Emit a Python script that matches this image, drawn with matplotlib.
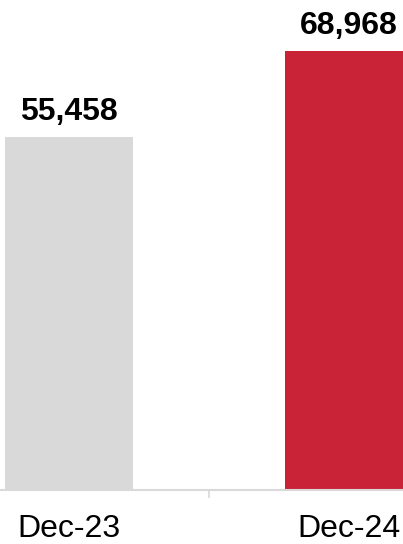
import matplotlib.pyplot as plt

categories = ["Dec-23", "Dec-24"]
values = [55458, 68968]
colours = ["#d9d9d9", "#c92337"]

plt.rcParams["font.family"] = ["Liberation Sans", "DejaVu Sans"]

fig = plt.figure(figsize=(4.03, 5.44), dpi=100)
ax = fig.add_axes([0, 54 / 544, 1, 490 / 544])

x = range(len(categories))
bars = ax.bar(x, values, width=0.457, color=colours)

for rect, v in zip(bars, values):
    ax.annotate(
        f"{v:,}",
        (rect.get_x() + rect.get_width() / 2, v),
        xytext=(0, 12),
        textcoords="offset points",
        ha="center",
        va="baseline",
        fontsize=23,
        fontweight="bold",
    )

ax.set_xlim(-0.246, 1.193)
ax.set_ylim(0, 76980)

# category labels at bar centres, tick mark between categories
ax.set_xticks(list(x), categories)
ax.tick_params(axis="x", which="major", length=0, pad=17, labelsize=23)
ax.set_xticks([0.5], minor=True)
ax.tick_params(axis="x", which="minor", length=6, width=1.2, color="#d9d9d9")

ax.set_yticks([])
for side in ["top", "right", "left"]:
    ax.spines[side].set_visible(False)
ax.spines["bottom"].set_color("#d9d9d9")
ax.spines["bottom"].set_linewidth(1.5)

fig.savefig("out.png", dpi=100)
